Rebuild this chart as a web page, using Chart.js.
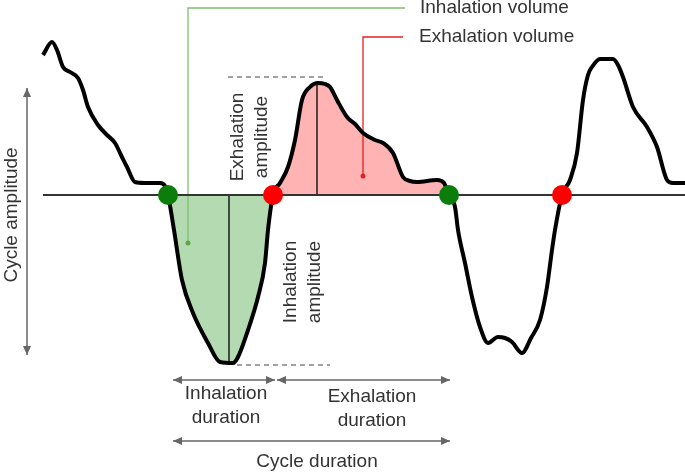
<!DOCTYPE html>
<html>
<head>
<meta charset="utf-8">
<script src="https://cdn.jsdelivr.net/npm/chart.js@4.4.1/dist/chart.umd.min.js"></script>
<style>
    body { margin: 0; background: #fff; }
</style>
</head>
<body>
<canvas id="breathChart" width="685" height="472"></canvas>
<script>
// Signal trace (time, amplitude; baseline = 0)
const time = [43, 52, 57, 63, 70, 78, 83, 88, 98, 107, 115, 121, 127, 135, 145, 160, 165, 168,
    174, 182, 193, 208, 220, 233, 238, 248, 258, 265, 268, 273,
    280, 288, 295, 302, 310, 318, 325, 330, 337, 347, 355, 363, 375, 383, 393, 403, 410, 417, 437, 444, 449,
    455, 458, 465, 472, 480, 488, 498, 505, 512, 522, 531, 540, 547, 552, 555, 562,
    570, 577, 583, 588, 592, 600, 613, 618, 623, 633, 647, 657, 667, 673, 685];
const amplitude = [140, 153, 145, 128, 123, 117, 105, 88, 70, 60, 52, 40, 28, 13, 12, 12, 9, 0,
    -35, -85, -118, -148, -167, -168, -162, -135, -102, -68, -35, 0,
    12, 28, 55, 95, 108, 112, 111, 108, 95, 78, 71, 62, 55, 52, 42, 18, 14, 13, 15, 12, 0,
    -12, -35, -68, -102, -132, -148, -142, -143, -147, -158, -143, -125, -92, -55, -35, 0,
    15, 42, 95, 120, 128, 136, 136, 130, 118, 88, 68, 48, 15, 12, 12];

// Zero crossings: start of inhalation (green) and of exhalation (red)
const inhaleStarts = [168, 449];
const exhaleStarts = [273, 562];

// One marked cycle
const inhaleRange = [168, 273];
const exhaleRange = [273, 449];
const inhaleAmpAt = 229;   // time where inhalation amplitude is measured
const exhaleAmpAt = 317;
const inhaleAmp = -167;
const exhaleAmp = 111;
const inhaleDash = [237, 330, -170];
const exhaleDash = [228, 325, 118];

const axisMin = { x: 0, y: -277 };
const axisMax = { x: 685, y: 195 };

function pointsBetween(from, to) {
    const pts = [];
    time.forEach((t, i) => {
        if (t >= from && t <= to) pts.push({ x: t, y: amplitude[i] });
    });
    return pts;
}

const signal = time.map((t, i) => ({ x: t, y: amplitude[i] }));
const lineOpts = { pointRadius: 0, cubicInterpolationMode: 'monotone', fill: false };

// annotation text + arrows, placed in data units
const labels = [
    { text: ['Inhalation volume'], x: 420, y: 187, align: 'left' },
    { text: ['Exhalation volume'], x: 419, y: 158, align: 'left' },
    { text: ['Exhalation', 'amplitude'], x: 250, y: 58, rotate: true },
    { text: ['Inhalation', 'amplitude'], x: 303, y: -87, rotate: true },
    { text: ['Cycle amplitude'], x: 12, y: -20, rotate: true },
    { text: ['Inhalation', 'duration'], x: 226, y: -211 },
    { text: ['Exhalation', 'duration'], x: 372, y: -214 },
    { text: ['Cycle duration'], x: 317, y: -267 }
];
const arrows = [
    [27, 107, 27, -160],
    [173, -185, 275, -185],
    [277, -185, 450, -185],
    [173, -246, 450, -246]
];

function drawHead(ctx, x, y, angle) {
    ctx.save();
    ctx.translate(x, y);
    ctx.rotate(angle);
    ctx.beginPath();
    ctx.moveTo(0, 0);
    ctx.lineTo(-9, -4);
    ctx.lineTo(-9, 4);
    ctx.closePath();
    ctx.fill();
    ctx.restore();
}

const annotations = {
    id: 'annotations',
    afterDatasetsDraw(chart) {
        const ctx = chart.ctx;
        const sx = chart.scales.x, sy = chart.scales.y;
        ctx.save();
        ctx.strokeStyle = '#666';
        ctx.fillStyle = '#666';
        ctx.lineWidth = 1.5;
        arrows.forEach(a => {
            const x1 = sx.getPixelForValue(a[0]), y1 = sy.getPixelForValue(a[1]);
            const x2 = sx.getPixelForValue(a[2]), y2 = sy.getPixelForValue(a[3]);
            const ang = Math.atan2(y2 - y1, x2 - x1);
            ctx.beginPath();
            ctx.moveTo(x1, y1);
            ctx.lineTo(x2, y2);
            ctx.stroke();
            drawHead(ctx, x2, y2, ang);
            drawHead(ctx, x1, y1, ang + Math.PI);
        });

        ctx.fillStyle = '#333';
        ctx.font = '19px "Liberation Sans", Arial, sans-serif';
        ctx.textBaseline = 'middle';
        const lh = 24;
        labels.forEach(l => {
            const px = sx.getPixelForValue(l.x), py = sy.getPixelForValue(l.y);
            ctx.save();
            ctx.translate(px, py);
            if (l.rotate) ctx.rotate(-Math.PI / 2);
            ctx.textAlign = l.align || 'center';
            const off = (l.text.length - 1) * lh / 2;
            l.text.forEach((t, i) => ctx.fillText(t, 0, i * lh - off));
            ctx.restore();
        });
        ctx.restore();
    }
};

new Chart(document.getElementById('breathChart'), {
    type: 'line',
    data: {
        datasets: [
            { ...lineOpts, data: signal, borderColor: '#000', borderWidth: 4, order: 1 },
            {
                data: inhaleStarts.map(t => ({ x: t, y: 0 })), showLine: false,
                pointRadius: 10, pointBackgroundColor: '#0a7d0a', pointBorderWidth: 0, order: 0
            },
            {
                data: exhaleStarts.map(t => ({ x: t, y: 0 })), showLine: false,
                pointRadius: 10, pointBackgroundColor: '#ff0000', pointBorderWidth: 0, order: 0
            },
            // baseline
            { ...lineOpts, data: [{ x: time[0], y: 0 }, { x: 685, y: 0 }], borderColor: '#333', borderWidth: 2, order: 2 },
            // filled volumes
            {
                ...lineOpts, data: pointsBetween(inhaleRange[0], inhaleRange[1]), borderWidth: 0,
                fill: { value: 0 }, backgroundColor: '#b4dab2', order: 6
            },
            {
                ...lineOpts, data: pointsBetween(exhaleRange[0], exhaleRange[1]), borderWidth: 0,
                fill: { value: 0 }, backgroundColor: '#ffb3b3', order: 6
            },
            // amplitudes
            { ...lineOpts, data: [{ x: inhaleAmpAt, y: 0 }, { x: inhaleAmpAt, y: inhaleAmp }], borderColor: '#000', borderWidth: 1.3, order: 3 },
            { ...lineOpts, data: [{ x: exhaleAmpAt, y: 0 }, { x: exhaleAmpAt, y: exhaleAmp }], borderColor: '#000', borderWidth: 1.3, order: 3 },
            {
                ...lineOpts, data: [{ x: inhaleDash[0], y: inhaleDash[2] }, { x: inhaleDash[1], y: inhaleDash[2] }],
                borderColor: '#444', borderWidth: 1, borderDash: [5, 4], order: 3
            },
            {
                ...lineOpts, data: [{ x: exhaleDash[0], y: exhaleDash[2] }, { x: exhaleDash[1], y: exhaleDash[2] }],
                borderColor: '#444', borderWidth: 1, borderDash: [5, 4], order: 3
            },
            // leader lines to the labels
            {
                data: [{ x: 188, y: -48 }, { x: 188, y: 187 }, { x: 405, y: 187 }], tension: 0,
                borderColor: '#7cc16e', borderWidth: 1.3, pointRadius: [2.5, 0, 0],
                pointBackgroundColor: '#5aa84a', pointBorderWidth: 0, order: 4
            },
            {
                data: [{ x: 363, y: 19 }, { x: 363, y: 158 }, { x: 403, y: 158 }], tension: 0,
                borderColor: '#e62020', borderWidth: 1.3, pointRadius: [2.5, 0, 0],
                pointBackgroundColor: '#e62020', pointBorderWidth: 0, order: 4
            }
        ]
    },
    options: {
        responsive: false,
        animation: false,
        layout: { padding: 0, autoPadding: false },
        scales: {
            x: { type: 'linear', min: axisMin.x, max: axisMax.x, display: false },
            y: { type: 'linear', min: axisMin.y, max: axisMax.y, display: false }
        },
        plugins: { legend: { display: false }, tooltip: { enabled: false } },
        elements: { line: { capBezierPoints: true } }
    },
    plugins: [annotations]
});
</script>
</body>
</html>
